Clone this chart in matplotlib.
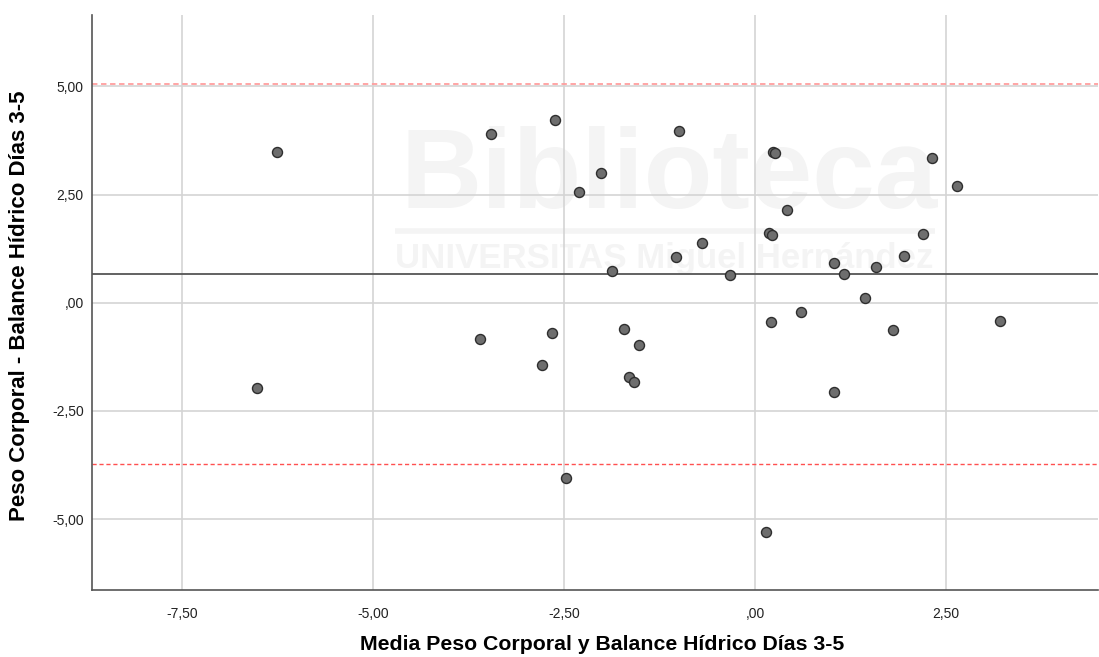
import matplotlib
matplotlib.use("Agg")
import matplotlib.pyplot as plt
from matplotlib.ticker import FixedLocator, FuncFormatter

# Bland-Altman data: mean of both methods (x) and their difference (y)
media = [-6.26, -6.52, -3.60, -3.46, -2.79, -2.66, -2.62, -2.48, -2.30, -2.01,
         -1.87, -1.71, -1.65, -1.59, -1.52, -1.04, -1.00, -0.70, -0.33, 0.14,
         0.18, 0.22, 0.21, 0.24, 0.26, 0.42, 0.60, 1.03, 1.04, 1.17,
         1.44, 1.59, 1.81, 1.95, 2.20, 2.32, 2.64, 3.21]
diferencia = [3.49, -1.98, -0.83, 3.90, -1.43, -0.71, 4.22, -4.05, 2.56, 3.00,
              0.73, -0.60, -1.71, -1.83, -0.97, 1.06, 3.97, 1.38, 0.63, -5.30,
              1.62, 1.56, -0.44, 3.49, 3.45, 2.14, -0.22, 0.92, -2.07, 0.66,
              0.11, 0.82, -0.63, 1.08, 1.59, 3.35, 2.70, -0.42]

# Mean difference and limits of agreement
media_dif = 0.66
limite_sup = 5.05
limite_inf = -3.73

x_ticks = [-7.5, -5.0, -2.5, 0.0, 2.5]
y_ticks = [-5.0, -2.5, 0.0, 2.5, 5.0]

x_label = "Media Peso Corporal y Balance Hídrico Días 3-5"
y_label = "Peso Corporal - Balance Hídrico Días 3-5"

plt.rcParams["font.family"] = ["Liberation Sans", "DejaVu Sans"]

fig = plt.figure(figsize=(10.99, 6.57), dpi=100)
W, H = 1099, 657
ax = fig.add_axes([92 / W, 1 - 590 / H, (1098 - 92) / W, 575 / H])

ax.set_xlim(-8.68, 4.49)
ax.set_ylim(-6.64, 6.65)


def coma(v, pos=None):
    s = f"{v:.2f}".replace(".", ",")
    if s.startswith("0,"):
        s = s[1:]
    if s.startswith("-0,"):
        s = "-" + s[2:]
    return s


ax.xaxis.set_major_locator(FixedLocator(x_ticks))
ax.yaxis.set_major_locator(FixedLocator(y_ticks))
ax.xaxis.set_major_formatter(FuncFormatter(coma))
ax.yaxis.set_major_formatter(FuncFormatter(coma))
ax.tick_params(axis="both", length=0, labelsize=10, colors="#222222")
ax.tick_params(axis="x", pad=12)
ax.tick_params(axis="y", pad=6)

ax.grid(True, color="#d4d4d4", linewidth=1.2, zorder=1)
ax.set_axisbelow(True)

for side in ("top", "right"):
    ax.spines[side].set_visible(False)
for side in ("left", "bottom"):
    ax.spines[side].set_color("#555555")
    ax.spines[side].set_linewidth(1.2)

# Faint library watermark behind the data
wm = "#f4f4f4"
ax.text(400 / W, 1 - 208 / H, "Biblioteca", transform=fig.transFigure,
        fontsize=81, fontweight="bold", color=wm, ha="left", va="baseline", zorder=0.5)
ax.plot([395 / W, 935 / W], [1 - 231 / H, 1 - 231 / H], transform=fig.transFigure,
        color=wm, linewidth=4, zorder=0.5, solid_capstyle="butt")
ax.text(395 / W, 1 - 259 / H, "UNIVERSITAS Miguel Hernández", transform=fig.transFigure,
        fontsize=25, fontweight="bold", color=wm, ha="left", va="center", zorder=0.5)

# Reference lines
ax.axhline(media_dif, color="#555555", linewidth=1.3, zorder=2)
ax.axhline(limite_sup, color="#ff9e9e", linewidth=1.3, linestyle=(0, (3, 2)), zorder=2)
ax.axhline(limite_inf, color="#ff5050", linewidth=1.0, linestyle=(0, (3, 2)), zorder=2)

ax.scatter(media, diferencia, s=52, facecolor="#6e6e6e", edgecolor="#2e2e2e",
           linewidth=1.0, zorder=3)

ax.set_xlabel(x_label, fontsize=15.3, fontweight="bold")
ax.set_ylabel(y_label, fontsize=16, fontweight="bold")
ax.xaxis.set_label_coords((602 - 92) / 1006, (590 - 645) / 575)
ax.yaxis.set_label_coords((20 - 92) / 1006, (590 - 306) / 575)
ax.xaxis.label.set_va("center")
ax.yaxis.label.set_va("center")

fig.savefig("out.png", dpi=100)
